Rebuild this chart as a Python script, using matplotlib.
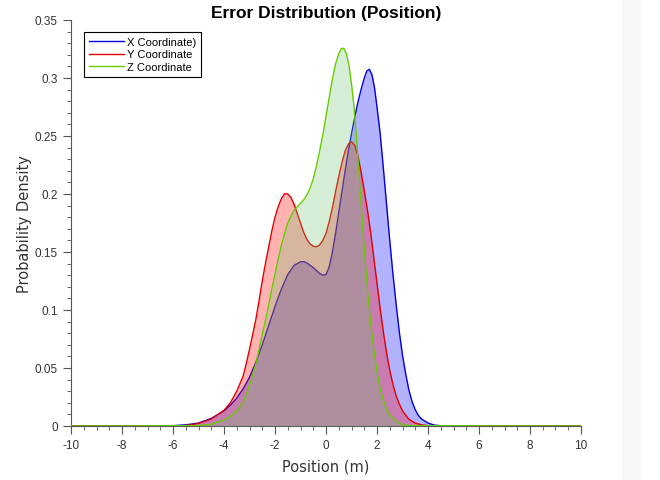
import matplotlib
matplotlib.use("Agg")
import matplotlib.pyplot as plt
from matplotlib.ticker import MultipleLocator

plt.rcParams['axes.unicode_minus'] = False

# values
x_pos = [-10, -6.0, -5.5, -5.0, -4.5, -4.0, -3.75, -3.5, -3.25, -3.0, -2.75, -2.5, -2.25,
         -2.0, -1.75, -1.5, -1.25, -1.0, -0.875, -0.75, -0.5, -0.375, -0.25, -0.125, 0.0,
         0.125, 0.25, 0.375, 0.5, 0.625, 0.75, 0.875, 1.0, 1.125, 1.25, 1.375, 1.5, 1.6,
         1.7, 1.8, 1.9, 2.0, 2.125, 2.25, 2.375, 2.5, 2.625, 2.75, 2.875, 3.0, 3.125, 3.25,
         3.375, 3.5, 3.625, 3.75, 4.0, 4.25, 4.5, 10]
x_dens = [0, 0.0003, 0.001, 0.0025, 0.0065, 0.013, 0.018, 0.024, 0.032, 0.042, 0.055, 0.070, 0.0865,
          0.103, 0.118, 0.1305, 0.1385, 0.1415, 0.1417, 0.1405, 0.1365, 0.134, 0.1315, 0.130, 0.1305,
          0.137, 0.150, 0.166, 0.184, 0.202, 0.220, 0.237, 0.252, 0.266, 0.279, 0.290, 0.300, 0.306,
          0.3075, 0.303, 0.292, 0.275, 0.252, 0.222, 0.191, 0.160, 0.131, 0.105, 0.081, 0.061, 0.045, 0.031,
          0.021, 0.014, 0.009, 0.006, 0.0025, 0.0008, 0.0002, 0]

y_pos = [-10, -6.0, -5.5, -5.0, -4.5, -4.0, -3.75, -3.5, -3.25, -3.125, -3.0, -2.875, -2.75,
         -2.625, -2.5, -2.375, -2.25, -2.125, -2.0, -1.875, -1.75, -1.625, -1.5, -1.375, -1.25,
         -1.125, -1.0, -0.875, -0.75, -0.625, -0.5, -0.375, -0.25, -0.125, 0.0, 0.125, 0.25,
         0.375, 0.5, 0.625, 0.75, 0.875, 1.0, 1.125, 1.25, 1.375, 1.5, 1.625, 1.75, 1.875, 2.0,
         2.125, 2.25, 2.375, 2.5, 2.625, 2.75, 2.875, 3.0, 3.25, 3.5, 3.75, 4.0, 10]
y_dens = [0, 0, 0.0004, 0.0022, 0.006, 0.0135, 0.020, 0.030, 0.043, 0.054, 0.066, 0.079, 0.092,
          0.108, 0.125, 0.140, 0.154, 0.168, 0.180, 0.189, 0.196, 0.2003, 0.2, 0.197, 0.191,
          0.183, 0.175, 0.167, 0.161, 0.157, 0.155, 0.1545, 0.156, 0.160, 0.166, 0.176, 0.188,
          0.202, 0.215, 0.227, 0.237, 0.243, 0.2452, 0.242, 0.233, 0.219, 0.203, 0.186, 0.167, 0.145, 0.123,
          0.101, 0.081, 0.063, 0.048, 0.036, 0.026, 0.019, 0.013, 0.0058, 0.0025, 0.001, 0.0003, 0]

z_pos = [-10, -5.0, -4.5, -4.0, -3.75, -3.5, -3.25, -3.0, -2.875, -2.75, -2.625, -2.5, -2.375,
         -2.25, -2.125, -2.0, -1.875, -1.75, -1.625, -1.5, -1.375, -1.25, -1.125, -1.0, -0.875,
         -0.75, -0.625, -0.5, -0.375, -0.25, -0.125, 0.0, 0.125, 0.25, 0.375, 0.5, 0.6, 0.7,
         0.8, 0.9, 1.0, 1.1, 1.2, 1.3, 1.4, 1.5, 1.625, 1.75, 1.875, 2.0, 2.125, 2.25, 2.375,
         2.5, 2.75, 3.0, 3.25, 10]
z_dens = [0, 0.0003, 0.0015, 0.0052, 0.0085, 0.013, 0.0205, 0.035, 0.044, 0.054, 0.066, 0.079, 0.091,
          0.104, 0.118, 0.131, 0.144, 0.156, 0.166, 0.175, 0.181, 0.186, 0.189, 0.192, 0.195,
          0.199, 0.205, 0.213, 0.224, 0.237, 0.251, 0.267, 0.283, 0.299, 0.312, 0.321, 0.3255, 0.3255,
          0.321, 0.311, 0.295, 0.275, 0.247, 0.215, 0.184, 0.153, 0.118, 0.089, 0.066, 0.047, 0.032, 0.022, 0.015,
          0.0095, 0.004, 0.0012, 0.0003, 0]

labels = ['X Coordinate)', 'Y Coordinate', 'Z Coordinate']

fig = plt.figure(figsize=(6.6, 4.81), dpi=100)
ax = fig.add_axes([0.1076, 0.1123, 0.7727, 0.8441])

# faint window strip on the right of the screenshot
fig.patches.append(plt.Rectangle((0.943, 0), 0.027, 1, transform=fig.transFigure,
                                 color='#f7f7f7', zorder=-1))

series = [
    (x_pos, x_dens, '#0000e0', '#0000ff', 0.3),
    (y_pos, y_dens, '#e00000', '#ff0000', 0.3),
    (z_pos, z_dens, '#66cc00', '#6fc26f', 0.28),
]
z = 1
for (xs, ys, lc, fc, a), lab in zip(series, labels):
    ax.fill_between(xs, ys, 0, color=fc, alpha=a, linewidth=0, zorder=z)
    ax.plot(xs, ys, color=lc, lw=1, label=lab, zorder=z + 0.5)
    z += 1

ax.set_xlim(-10, 10)
ax.set_ylim(0, 0.35)
ax.xaxis.set_major_locator(MultipleLocator(2))
ax.xaxis.set_minor_locator(MultipleLocator(0.5))
ax.yaxis.set_minor_locator(MultipleLocator(0.01))
ax.set_yticks([0, 0.05, 0.1, 0.15, 0.2, 0.25, 0.3, 0.35])
ax.set_yticklabels(['0', '0.05', '0.1', '0.15', '0.2', '0.25', '0.3', '0.35'])

ax.spines['top'].set_visible(False)
ax.spines['right'].set_visible(False)
for s in ['left', 'bottom']:
    ax.spines[s].set_color('#555555')
    ax.spines[s].set_linewidth(0.8)
ax.tick_params(which='major', length=6, color='#555555', labelsize=8.5,
               labelcolor='#333333', labelfontfamily='Liberation Sans')
ax.tick_params(which='minor', length=3, color='#555555')

ax.set_title('Error Distribution (Position)', fontsize=12.5, fontweight='bold',
             family='Liberation Sans', pad=2)
ax.set_xlabel('Position (m)', fontsize=10.5, color='#333333', labelpad=5)
ax.set_ylabel('Probability Density', fontsize=10.5, color='#333333', labelpad=2)

leg = ax.legend(loc='upper left', bbox_to_anchor=(0.015, 0.985), fancybox=False,
                edgecolor='black', framealpha=1, handlelength=3.1, handletextpad=0.3,
                prop={'family': 'Liberation Sans', 'size': 8},
                borderpad=0.45, labelspacing=0.25)
leg.get_frame().set_linewidth(0.8)

fig.savefig('out.png', dpi=100)
